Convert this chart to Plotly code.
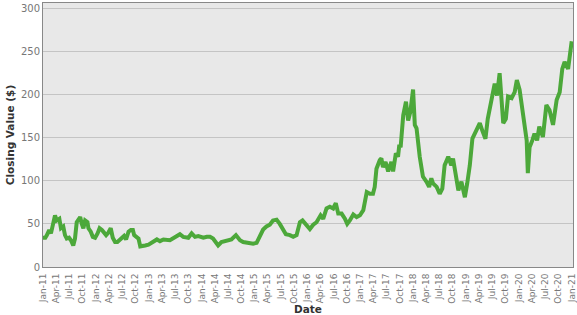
import plotly.graph_objects as go

dates = [
    "2011-01-01", "2011-01-17", "2011-01-28", "2011-02-13", "2011-02-25", "2011-03-13", "2011-03-25",
    "2011-04-06", "2011-04-24", "2011-05-05", "2011-05-21", "2011-06-02", "2011-06-14", "2011-06-30",
    "2011-07-13", "2011-07-29", "2011-08-10", "2011-08-22", "2011-09-08", "2011-09-15", "2011-09-26",
    "2011-10-07", "2011-10-19", "2011-11-04", "2011-11-11", "2011-11-27", "2011-12-11", "2011-12-27",
    "2012-01-13", "2012-01-27", "2012-02-12", "2012-02-28", "2012-03-12", "2012-03-28", "2012-04-13",
    "2012-04-27", "2012-05-13", "2012-05-29", "2012-06-12", "2012-06-28", "2012-07-14", "2012-07-28",
    "2012-08-14", "2012-08-30", "2012-09-13", "2012-09-22", "2012-10-10", "2012-10-22", "2012-11-03",
    "2012-11-21", "2012-12-07", "2012-12-30", "2013-01-23", "2013-02-08", "2013-02-26", "2013-03-19",
    "2013-04-12", "2013-05-27", "2013-07-01", "2013-08-04", "2013-08-27", "2013-10-01", "2013-10-24",
    "2013-11-16", "2013-12-09", "2014-01-13", "2014-02-06", "2014-02-28", "2014-03-21", "2014-04-25",
    "2014-05-18", "2014-06-22", "2014-07-26", "2014-08-26", "2014-09-23", "2014-10-15", "2014-11-19",
    "2014-12-23", "2015-01-16", "2015-02-08", "2015-03-02", "2015-03-25", "2015-04-17", "2015-05-09",
    "2015-06-03", "2015-06-25", "2015-07-18", "2015-08-06", "2015-09-03", "2015-09-26", "2015-10-19",
    "2015-11-11", "2015-11-29", "2015-12-27", "2016-01-19", "2016-02-11", "2016-03-05", "2016-04-02",
    "2016-04-20", "2016-05-13", "2016-06-05", "2016-06-28", "2016-07-16", "2016-08-02", "2016-08-25",
    "2016-09-17", "2016-10-03", "2016-10-21", "2016-11-14", "2016-12-07", "2016-12-30", "2017-01-22",
    "2017-02-03", "2017-02-15", "2017-03-08", "2017-03-30", "2017-04-11", "2017-04-23", "2017-05-16",
    "2017-05-27", "2017-06-07", "2017-06-25", "2017-07-13", "2017-08-04", "2017-08-16", "2017-09-04",
    "2017-09-19", "2017-09-28", "2017-10-07", "2017-10-25", "2017-11-13", "2017-11-28", "2017-12-13",
    "2018-01-01", "2018-01-13", "2018-01-25", "2018-02-16", "2018-03-10", "2018-04-04", "2018-04-22",
    "2018-05-07", "2018-05-19", "2018-06-13", "2018-07-04", "2018-07-22", "2018-08-07", "2018-09-01",
    "2018-09-22", "2018-10-04", "2018-10-22", "2018-11-10", "2018-12-01", "2018-12-25", "2019-01-10",
    "2019-01-28", "2019-02-15", "2019-03-13", "2019-04-07", "2019-04-25", "2019-05-16", "2019-06-01",
    "2019-06-25", "2019-07-19", "2019-08-04", "2019-08-22", "2019-09-16", "2019-10-04", "2019-10-19",
    "2019-11-13", "2019-12-04", "2019-12-19", "2020-01-07", "2020-02-01", "2020-02-25", "2020-03-04",
    "2020-03-16", "2020-04-04", "2020-04-19", "2020-05-07", "2020-05-22", "2020-06-16", "2020-07-10",
    "2020-08-01", "2020-08-25", "2020-09-19", "2020-10-10", "2020-10-28", "2020-11-13", "2020-12-07",
    "2020-12-22", "2021-01-01",
]

closing_values = [
    34, 34, 37, 43, 39, 52, 60,
    54, 56, 45, 47, 37, 33, 34,
    31, 25, 33, 52, 56, 58, 50,
    45, 54, 52, 45, 41, 35, 34,
    39, 45, 43, 39, 37, 40, 45,
    34, 29, 29, 31, 34, 36, 32,
    41, 43, 43, 37, 34, 33, 24,
    24, 25, 26, 29, 31, 32, 30,
    32, 31, 34, 38, 35, 34, 39,
    35, 36, 34, 35, 35, 33, 25,
    29, 31, 32, 37, 31, 29, 28,
    27, 28, 35, 43.5, 47, 49, 54,
    55, 50, 44, 38, 37, 35, 37,
    52, 54, 49, 44, 49, 52, 60,
    56, 68, 70, 68, 74, 62, 62,
    56, 50, 54, 61, 58, 60, 66,
    77, 87, 85, 85, 93, 114, 124,
    126, 116, 122, 111, 122, 111, 132,
    128, 142, 139, 176, 192, 170, 180,
    206, 165, 161, 128, 105, 99, 93,
    103, 97, 93, 85, 91, 118, 128,
    118, 126, 105, 89, 99, 81, 97,
    118, 149, 158, 167, 158, 149, 172,
    194, 213, 199, 225, 167, 172, 198,
    196, 203, 217, 206, 179, 147, 109,
    139, 147, 155, 147, 163, 151, 188,
    182, 165, 194, 203, 230, 238, 230,
    252, 262,
]

y_ticks = [0, 50, 100, 150, 200, 250, 300]

fig = go.Figure()
fig.add_trace(go.Scatter(
    x=dates, y=closing_values, mode="lines",
    line=dict(color="#4ca83a", width=4),
    showlegend=False,
))

x_font = dict(family="DejaVu Sans", size=9, color="#777777")
y_font = dict(family="DejaVu Sans", size=10, color="#777777")
title_font = dict(family="DejaVu Sans", size=10.5, color="#333333")

fig.update_layout(
    width=577, height=315,
    margin=dict(l=43, r=4, t=3, b=48),
    paper_bgcolor="white",
    plot_bgcolor="#e8e8e8",
    xaxis=dict(
        range=["2011-01-01", "2021-01-10"],
        dtick="M3", tick0="2011-01-01", tickformat="%b-%y",
        tickangle=-90, tickfont=x_font, automargin=False,
        showgrid=False, showline=True, linecolor="#888888", linewidth=1, mirror=True,
        ticks="", ticklabelstandoff=2,
        title=dict(text="<b>Date</b>", font=title_font, standoff=0),
    ),
    yaxis=dict(
        range=[0, 306.5], tickvals=y_ticks, tickfont=y_font, automargin=False,
        showgrid=True, gridcolor="#c4c4c4", gridwidth=1, zeroline=False,
        showline=True, linecolor="#888888", linewidth=1, mirror=True,
        ticks="",
        title=dict(text="<b>Closing Value ($)</b>", font=title_font, standoff=4),
    ),
)

fig.write_html("out.html")
